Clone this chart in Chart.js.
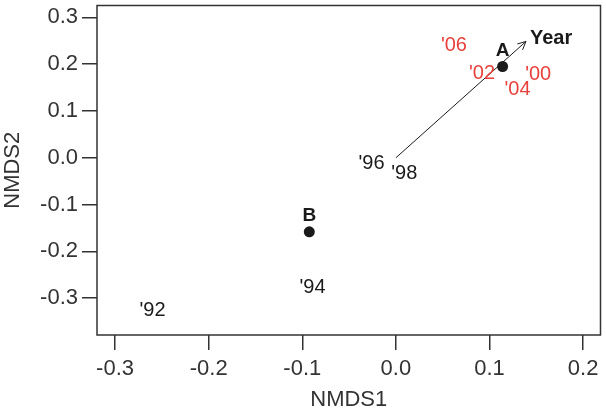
<!DOCTYPE html>
<html lang="en">
<head>
<meta charset="UTF-8">
<title>NMDS ordination</title>
<style>
body { margin: 0; background: #fff; }
#wrap { width: 606px; height: 418px; }
</style>
</head>
<body>
<div id="wrap"><canvas id="nmds" width="606" height="418"></canvas></div>
<script src="https://cdn.jsdelivr.net/npm/chart.js"></script>
<script>
// year scores (label positions)
const yearLabels = ["'92", "'94", "'96", "'98", "'00", "'02", "'04", "'06"];
const yearX = [-0.260, -0.089, -0.026, 0.009, 0.152, 0.092, 0.130, 0.062];
const yearY = [-0.326, -0.277, -0.013, -0.033, 0.178, 0.180, 0.146, 0.240];

// group centroids
const groupLabels = ['A', 'B'];
const groupX = [0.114, -0.0925];
const groupY = [0.195, -0.158];

// fitted environmental vector
const vectorLabel = 'Year';
const vectorX = 0.139;
const vectorY = 0.2485;

// axis ticks
const xTicks = [-0.3, -0.2, -0.1, 0.0, 0.1, 0.2];
const yTicks = [-0.3, -0.2, -0.1, 0.0, 0.1, 0.2, 0.3];

const FONT = "'Liberation Sans', Arial, sans-serif";
const INK = '#1a1a1a';
const AXIS = '#333333';
const RED = '#e8413c';

// draws the frame, the arrow head and all the text labels
const labelPlugin = {
  id: 'nmdsLabels',
  afterDatasetsDraw(chart) {
    const ctx = chart.ctx;
    const a = chart.chartArea;
    ctx.save();

    ctx.strokeStyle = AXIS;
    ctx.lineWidth = 1.5;
    ctx.strokeRect(a.left, a.top, a.right - a.left, a.bottom - a.top);

    // year labels
    const yrs = chart.getDatasetMeta(2).data;
    ctx.font = '20px ' + FONT;
    ctx.textAlign = 'center';
    ctx.textBaseline = 'middle';
    yrs.forEach((p, i) => {
      ctx.fillStyle = i >= 4 ? RED : INK;
      ctx.fillText(yearLabels[i], p.x, p.y);
    });

    // group labels
    const grp = chart.getDatasetMeta(0).data;
    ctx.font = 'bold 19px ' + FONT;
    ctx.fillStyle = INK;
    grp.forEach((p, i) => {
      ctx.fillText(groupLabels[i], p.x, p.y - 16);
    });

    // arrow head + vector label
    const vec = chart.getDatasetMeta(1).data;
    const p0 = vec[0], p1 = vec[1];
    const ang = Math.atan2(p1.y - p0.y, p1.x - p0.x);
    ctx.strokeStyle = INK;
    ctx.lineWidth = 1;
    ctx.beginPath();
    ctx.moveTo(p1.x - 9 * Math.cos(ang - 0.45), p1.y - 9 * Math.sin(ang - 0.45));
    ctx.lineTo(p1.x, p1.y);
    ctx.lineTo(p1.x - 9 * Math.cos(ang + 0.45), p1.y - 9 * Math.sin(ang + 0.45));
    ctx.stroke();
    ctx.font = 'bold 20px ' + FONT;
    ctx.textAlign = 'left';
    ctx.fillText(vectorLabel, p1.x + 4, p1.y - 3);

    ctx.restore();
  }
};

const tickGrid = {
  display: true,
  drawOnChartArea: false,
  drawTicks: true,
  tickLength: 15,
  tickColor: AXIS,
  lineWidth: 1.5
};

new Chart(document.getElementById('nmds'), {
  type: 'scatter',
  data: {
    datasets: [
      {
        data: groupX.map((x, i) => ({ x: x, y: groupY[i] })),
        pointRadius: 5.5,
        pointBackgroundColor: INK,
        pointBorderWidth: 0
      },
      {
        type: 'line',
        data: [{ x: 0, y: 0 }, { x: vectorX, y: vectorY }],
        borderColor: INK,
        borderWidth: 1,
        pointRadius: 0,
        fill: false
      },
      {
        data: yearX.map((x, i) => ({ x: x, y: yearY[i] })),
        pointRadius: 0
      }
    ]
  },
  options: {
    responsive: false,
    devicePixelRatio: 1,
    animation: false,
    layout: { padding: { top: 3, right: 4, left: 0, bottom: 0 } },
    plugins: { legend: { display: false }, tooltip: { enabled: false } },
    scales: {
      x: {
        type: 'linear',
        min: -0.3193,
        max: 0.2186,
        afterFit: s => {
          s.height = 83;
          s.paddingLeft = 0;
          s.paddingRight = 0;
        },
        afterBuildTicks: s => { s.ticks = xTicks.map(v => ({ value: v })); },
        grid: tickGrid,
        border: { display: false },
        ticks: {
          color: AXIS,
          padding: 6,
          maxRotation: 0,
          font: { family: FONT, size: 22 },
          callback: v => v.toFixed(1)
        },
        title: {
          display: true,
          text: 'NMDS1',
          color: AXIS,
          font: { family: FONT, size: 22 },
          padding: { top: 0, bottom: 5 }
        }
      },
      y: {
        type: 'linear',
        min: -0.3785,
        max: 0.3253,
        afterFit: s => {
          s.width = 97;
          s.paddingTop = 0;
          s.paddingBottom = 0;
        },
        afterBuildTicks: s => { s.ticks = yTicks.map(v => ({ value: v })); },
        grid: tickGrid,
        border: { display: false },
        ticks: {
          color: AXIS,
          padding: 4,
          font: { family: FONT, size: 22 },
          callback: v => v.toFixed(1)
        },
        title: {
          display: true,
          text: 'NMDS2',
          color: AXIS,
          font: { family: FONT, size: 22 },
          padding: { top: 0, bottom: 0 }
        }
      }
    }
  },
  plugins: [labelPlugin]
});
</script>
</body>
</html>
